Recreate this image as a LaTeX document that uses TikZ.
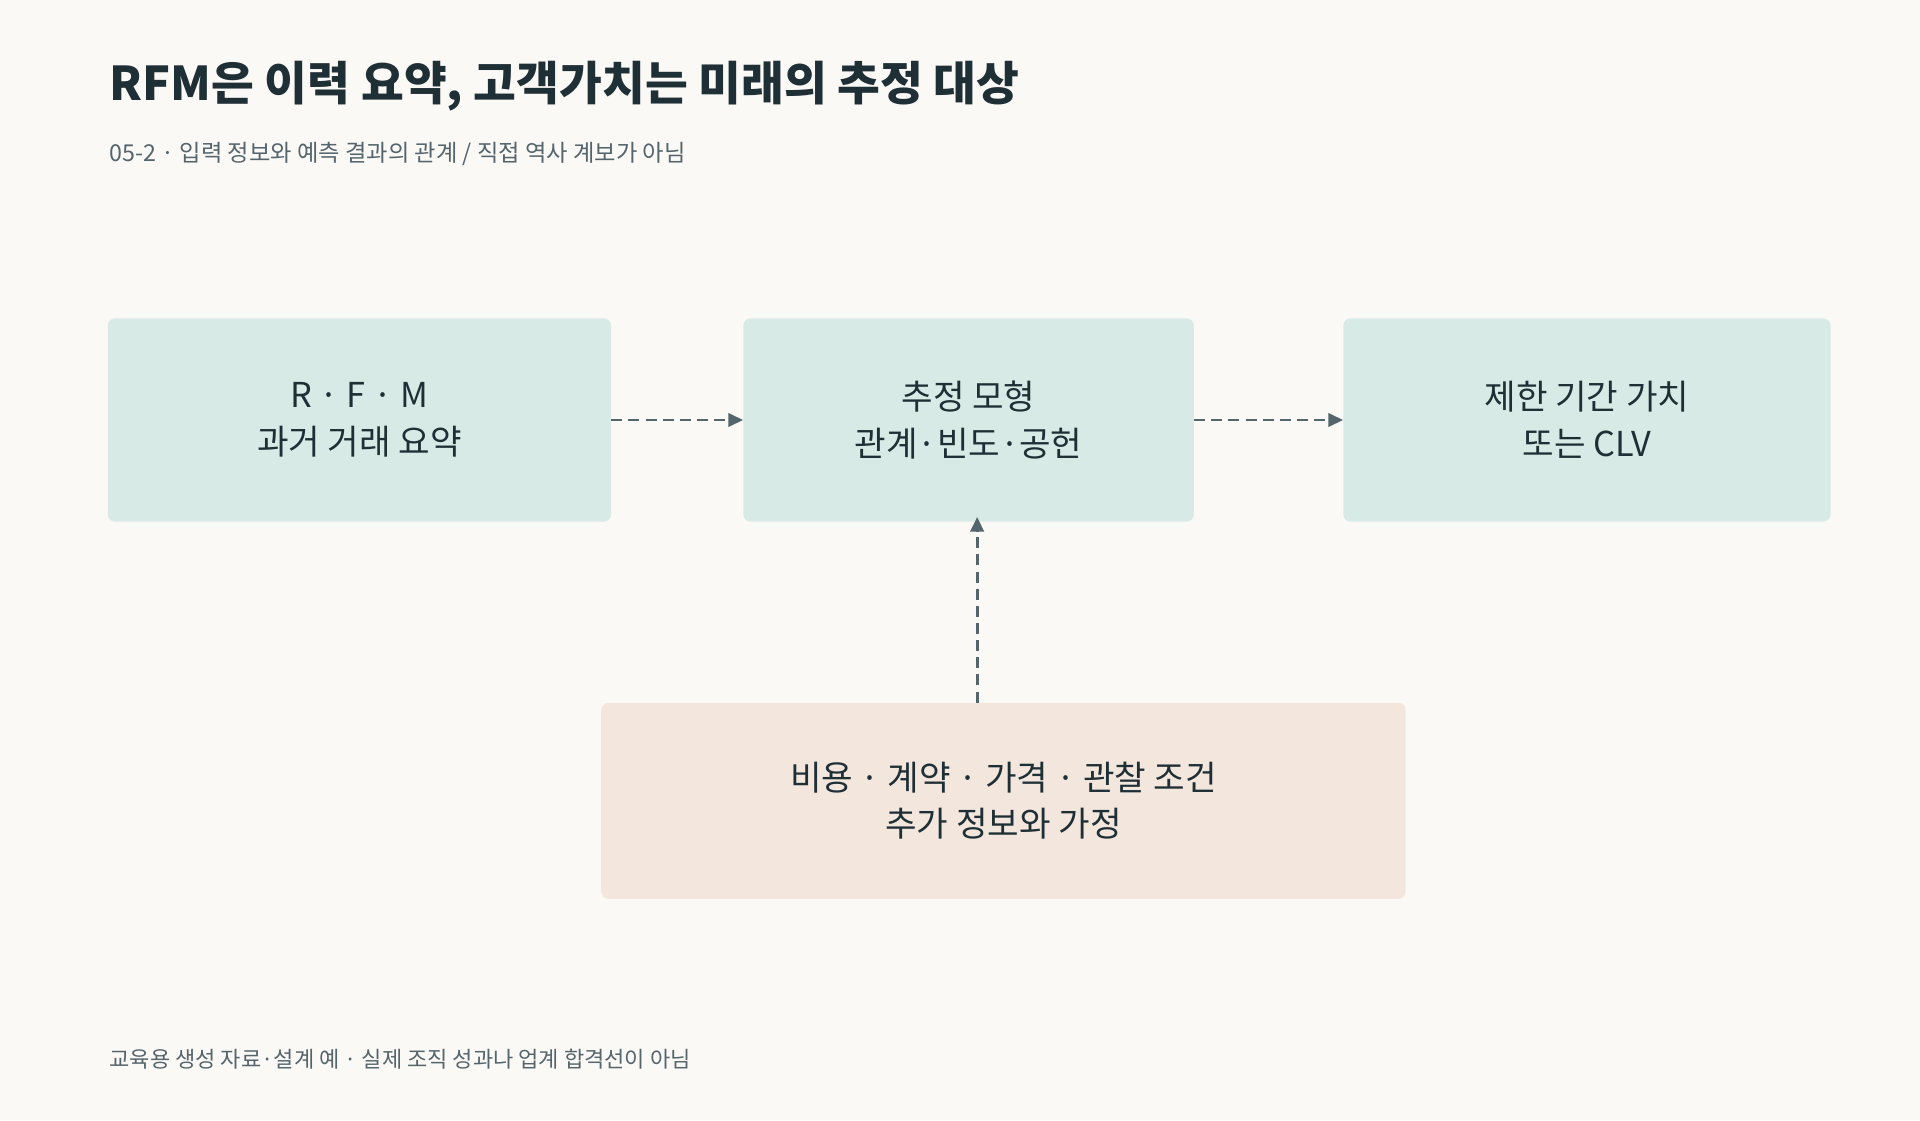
\documentclass[tikz,border=0pt]{standalone}
\usepackage{fontspec}
\setmainfont{Noto Sans CJK KR}
\usetikzlibrary{arrows.meta, positioning}
\definecolor{bgPaper}{HTML}{FBF9F6}
\definecolor{inkDark}{HTML}{1F2F36}
\definecolor{inkGrey}{HTML}{55656C}
\definecolor{tealFill}{HTML}{D8EAE6}
\definecolor{sandFill}{HTML}{F3E6DC}
\tikzstyle{boxModel} = [rectangle, rounded corners=6pt, align=center, text=inkDark, fill=tealFill, font=\fontsize{28}{38}\selectfont, minimum height=166pt]
\tikzstyle{boxExtra} = [rectangle, rounded corners=6pt, align=center, text=inkDark, fill=sandFill, font=\fontsize{28}{38}\selectfont, minimum width=657pt, minimum height=160pt]
\tikzstyle{arrow} = [line width=2.2pt, draw=inkGrey, dash pattern=on 9pt off 5pt, -{Triangle[length=12pt,width=11pt]}]

\begin{document}
\begin{tikzpicture}[x=1pt, y=-1pt]
\fill[bgPaper] (0,0) rectangle (1568,915);
\useasboundingbox (0,0) rectangle (1568,915);

\node[anchor=base west, text=inkDark, font=\fontsize{38}{44}\selectfont\bfseries] (title) at (86,82) {RFM은 이력 요약, 고객가치는 미래의 추정 대상};
\node[anchor=base west, text=inkGrey, font=\fontsize{19}{24}\selectfont] (subtitle) at (86,132) {05-2 · 입력 정보와 예측 결과의 관계 / 직접 역사 계보가 아님};

\node (rfm) [boxModel, minimum width=411pt] at (293.5,343) {R · F · M\\과거 거래 요약};
\node (model) [boxModel, minimum width=368pt] at (791,343) {추정 모형\\관계·빈도·공헌};
\node (value) [boxModel, minimum width=398pt] at (1296,343) {제한 기간 가치\\또는 CLV};
\node (extra) [boxExtra] at (819.5,654) {비용 · 계약 · 가격 · 관찰 조건\\추가 정보와 가정};

\draw [arrow] (rfm.east) -- (model.west);
\draw [arrow] (model.east) -- (value.west);
\draw [arrow] (extra.north -| 798,0) -- ([yshift=4pt]model.south -| 798,0);

\node[anchor=base west, text=inkGrey, font=\fontsize{18}{22}\selectfont] (footer) at (86,872) {교육용 생성 자료·설계 예 · 실제 조직 성과나 업계 합격선이 아님};
\end{tikzpicture}
\end{document}
